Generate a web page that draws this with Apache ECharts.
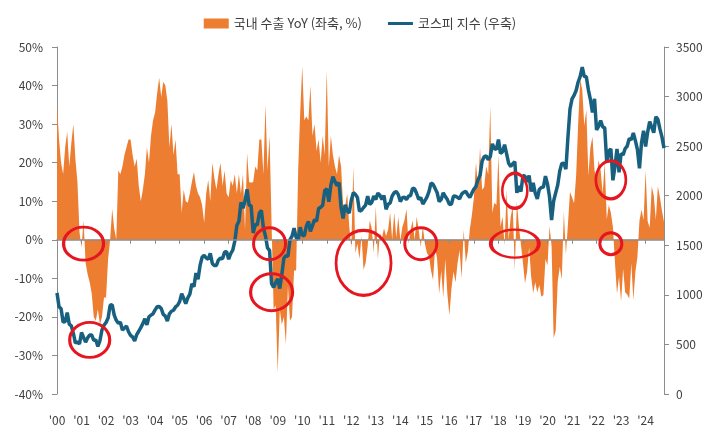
<!DOCTYPE html>
<html>
<head>
<meta charset="utf-8">
<script src="https://cdn.jsdelivr.net/npm/echarts@6/dist/echarts.min.js"></script>
<style>
html, body { margin: 0; padding: 0; background: #fff; }
#chart { width: 720px; height: 439px; }
</style>
</head>
<body>
<div id="chart"></div>
<script>
'use strict';
// monthly, 2000-01 ~ 2024-10
var firstYear = 2000;
var lastYear = 2024;
var lastMonth = 10;

// 국내 수출 YoY (%)
var exportYoY = [
	35, 26, 20, 17, 24, 28, 19, 25, 30, 21, 15, 2,            // 2000
	-2, 5, -6, -9, -11, -14, -20, -21, -18, -22, -20, -15,    // 2001
	-15, -5, 0, 8, 3, 0, 18, 17, 19, 22, 24, 26,              // 2002
	26, 22, 19, 21, 14, 10, 13, 17, 24, 20, 27, 31,           // 2003
	33, 38, 42, 37, 41, 40, 36, 24, 30, 22, 26, 17,           // 2004
	17, 7, 13, 10, 9.6, 12, 15, 17.6, 14, 12, 11, 9,          // 2005
	4.4, 12, 15.5, 10, 20, 16, 13, 17, 20, 14, 18, 12,        // 2006
	11, 15.5, 14, 17, 12, 17, 12, 17, 2.6, 22.5, 15, 14.8,    // 2007
	15, 19, 18, 26, 26, 17, 35, 18, 27, 4, -18, -17,          // 2008
	-34.5, -18, -22, -20, -27, -12, -21, -20, -8, -8, 18, 33, // 2009
	45, 31, 32, 31, 40, 27, 30, 23, 26, 20, 27, 22,           // 2010
	44, 19, 27, 22, 19, 17, 22, 19, 9, 8.6, 12, 3.4,          // 2011
	-2, 19, -3.4, -1, -5, 1, -7.8, -6, -1.7, 5, 3, -3.4,      // 2012
	8.6, -5, 1.7, 0.4, 3, 1, 2.6, 7, 0, 7, 0.5, 6,            // 2013
	-0.2, 3.4, 5, 8, -1, 2.5, 5, 0, 6, 2.4, -1.9, 3.6,        // 2014
	-1, -3.4, -4.3, -8, -10.4, -2, -5, -14, -8, -15, -5, -14, // 2015
	-19.6, -12.7, -8.2, -11, -6, -2.7, -10, 2.6, -5.9, -3.2, 2.7, 6.4, // 2016
	11, 20, 13.7, 24, 13, 13.6, 19, 17, 34.5, 7, 9.6, 9,      // 2017
	22, 3.4, 6, -1.5, 13, 0, 6, 8.6, -8, 10, 3.6, -1.2,       // 2018
	-6, -11.3, -8.3, -2, -9.5, -13.8, -11, -13.6, -11.7, -14.8, -14.3, -5, // 2019
	-6.6, 3.5, -1.6, -25.5, -23.6, -10.9, -7, -10.3, 7.3, -3.8, 4, 12.4,   // 2020
	11, 9.5, 16.6, 30, 41.5, 39, 29.6, 33.7, 16.7, 24, 26.7, 18,          // 2021
	15.5, 20.7, 18, 12, 20, 5.3, 9, 7, 3.4, -5.8, -14, -9.6,              // 2022
	-16, -7.5, -13.6, -14.2, -15.2, -6, -15.6, -8.3, -4.4, 5, 7.8, 5.1,   // 2023
	18, 4.8, 3.1, 13.8, 11.5, 5.1, 13.9, 11, 7.5, 4.6                     // 2024
];

// 코스피 지수
var kospi = [
	1020, 880, 860, 725, 731, 821, 705, 688, 613, 514, 526, 504,         // 2000
	620, 570, 523, 567, 596, 595, 541, 545, 479, 537, 647, 693,          // 2001
	722, 767, 895, 900, 796, 743, 714, 723, 646, 666, 685, 628,          // 2002
	591, 575, 535, 599, 633, 670, 710, 759, 697, 779, 796, 810,          // 2003
	848, 880, 883, 862, 803, 785, 735, 809, 835, 845, 878, 895,          // 2004
	932, 1011, 965, 911, 970, 1008, 1111, 1083, 1221, 1158, 1297, 1379,  // 2005
	1399, 1371, 1359, 1419, 1317, 1295, 1297, 1352, 1371, 1364, 1432, 1434, // 2006
	1360, 1417, 1452, 1542, 1700, 1743, 1933, 1873, 1946, 2064, 1906, 1897, // 2007
	1624, 1711, 1704, 1825, 1852, 1674, 1594, 1474, 1448, 1113, 1076, 1124, // 2008
	1162, 1063, 1206, 1369, 1395, 1390, 1557, 1591, 1673, 1580, 1555, 1682, // 2009
	1602, 1594, 1692, 1741, 1641, 1698, 1759, 1742, 1872, 1882, 1904, 2051, // 2010
	2069, 1939, 2106, 2192, 2142, 2100, 2133, 1880, 1770, 1909, 1847, 1826, // 2011
	1955, 2030, 2014, 1982, 1843, 1854, 1881, 1905, 1996, 1912, 1932, 1997, // 2012
	1961, 2026, 2005, 1963, 2001, 1863, 1914, 1926, 1997, 2030, 2044, 2011, // 2013
	1941, 1980, 1985, 1961, 1995, 2002, 2076, 2068, 2020, 1964, 1981, 1916, // 2014
	1949, 1986, 2041, 2127, 2115, 2074, 2030, 1941, 1963, 2029, 1992, 1961, // 2015
	1912, 1917, 1996, 1994, 1983, 1970, 2016, 2035, 2044, 2008, 1983, 2026, // 2016
	2067, 2092, 2160, 2205, 2347, 2392, 2402, 2363, 2394, 2523, 2476, 2467, // 2017
	2566, 2427, 2445, 2515, 2423, 2326, 2295, 2322, 2343, 2029, 2097, 2041, // 2018
	2205, 2195, 2140, 2204, 2041, 2130, 2025, 1967, 2063, 2083, 2087, 2197, // 2019
	2119, 1987, 1754, 1947, 2029, 2108, 2249, 2326, 2327, 2267, 2591, 2873, // 2020
	2976, 3012, 3061, 3147, 3203, 3296, 3202, 3199, 3068, 2970, 2839, 2977, // 2021
	2663, 2699, 2757, 2695, 2685, 2332, 2451, 2472, 2155, 2293, 2472, 2236, // 2022
	2425, 2412, 2476, 2501, 2577, 2564, 2632, 2556, 2465, 2277, 2535, 2655, // 2023
	2497, 2642, 2747, 2692, 2636, 2797, 2770, 2674, 2593, 2480              // 2024
];

var exportName = '국내 수출 YoY (좌축, %)';
var kospiName = '코스피 지수 (우축)';

// 빨간 동그라미 표시 위치 [월, 값]
var circlesOnExport = [['2001-02', -1], ['2008-09', -1], ['2012-07', -6], ['2014-11', -1], ['2018-09', -1], ['2022-08', -1]];
var circlesOnKospi = [['2001-05', 545], ['2008-10', 1026], ['2018-09', 2050], ['2022-08', 2160]];
var exportCircleSize = [[40, 33], [32, 32], [55, 65], [32, 32], [48, 28], [22, 22]];
var kospiCircleSize = [[40, 35], [42, 37], [25, 35], [30, 38]];

var months = [];
for (var y = firstYear; y <= lastYear; y++) {
	for (var m = 1; m <= 12; m++) {
		if (y === lastYear && m > lastMonth) break;
		months.push(y + '-' + (m < 10 ? '0' + m : m));
	}
}

function isJan(idx, value) {
	return months[idx].slice(5) === '01';
}

var font = "'Noto Sans CJK KR', sans-serif";
var textColor = '#404040';
var axisColor = '#8c8c8c';
var red = '#E5161F';

function circleMarks(list, sizes) {
	return list.map(function (c, i) {
		return {coord: [c[0], c[1]], symbolSize: sizes[i]};
	});
}

var markStyle = {
	symbol: 'circle',
	silent: true,
	label: {show: false},
	itemStyle: {color: 'rgba(0,0,0,0)', borderColor: red, borderWidth: 3},
	z: 10
};

var myChart = echarts.init(document.getElementById('chart'));
var option = {
	animation: false,
	textStyle: {fontFamily: font},
	legend: {
		top: 12,
		left: 'center',
		itemWidth: 25,
		itemHeight: 10,
		itemGap: 26,
		textStyle: {fontSize: 13, color: textColor, fontFamily: font},
		data: [
			{name: exportName, icon: 'rect'},
			{name: kospiName, icon: 'path://M0,0H25V3H0Z'}
		]
	},
	grid: {left: 57, right: 56, top: 47, bottom: 45},
	xAxis: [
		{
			type: 'category',
			data: months,
			boundaryGap: false,
			z: 3,
			axisLine: {onZero: true, onZeroAxisIndex: 0, lineStyle: {color: axisColor, width: 1.5}},
			axisTick: {show: true, interval: isJan, length: 4, lineStyle: {color: axisColor}},
			axisLabel: {show: false},
			splitLine: {show: false}
		},
		{
			type: 'category',
			data: months,
			boundaryGap: false,
			position: 'bottom',
			axisLine: {show: false, onZero: false},
			axisTick: {show: false},
			axisLabel: {
				interval: isJan,
				margin: 20,
				fontSize: 12,
				color: textColor,
				fontFamily: font,
				formatter: function (v) { return "'" + v.slice(2, 4); }
			},
			splitLine: {show: false}
		}
	],
	yAxis: [
		{
			type: 'value',
			min: -40,
			max: 50,
			interval: 10,
			position: 'left',
			axisLine: {show: true, lineStyle: {color: axisColor}},
			axisTick: {show: true, length: 5, lineStyle: {color: axisColor}},
			axisLabel: {formatter: '{value}%', margin: 14, fontSize: 12, color: textColor, fontFamily: font},
			splitLine: {show: false}
		},
		{
			type: 'value',
			min: 0,
			max: 3500,
			interval: 500,
			position: 'right',
			axisLine: {show: true, lineStyle: {color: axisColor}},
			axisTick: {show: true, length: 5, lineStyle: {color: axisColor}},
			axisLabel: {
				margin: 12,
				fontSize: 12,
				color: textColor,
				fontFamily: font,
				formatter: function (v) { return String(v); }
			},
			splitLine: {show: false}
		}
	],
	series: [
		{
			name: exportName,
			type: 'line',
			xAxisIndex: 0,
			yAxisIndex: 0,
			data: exportYoY,
			symbol: 'none',
			showSymbol: false,
			lineStyle: {width: 0},
			itemStyle: {color: '#ED7D31'},
			areaStyle: {color: '#ED7D31', opacity: 1},
			z: 1,
			markPoint: Object.assign({data: circleMarks(circlesOnExport, exportCircleSize)}, markStyle)
		},
		{
			name: kospiName,
			type: 'line',
			xAxisIndex: 0,
			yAxisIndex: 1,
			data: kospi,
			symbol: 'none',
			showSymbol: false,
			lineStyle: {width: 3.5, color: '#17607F'},
			itemStyle: {color: '#17607F'},
			z: 2,
			markPoint: Object.assign({data: circleMarks(circlesOnKospi, kospiCircleSize)}, markStyle)
		}
	]
};
myChart.setOption(option);
</script>
</body>
</html>
